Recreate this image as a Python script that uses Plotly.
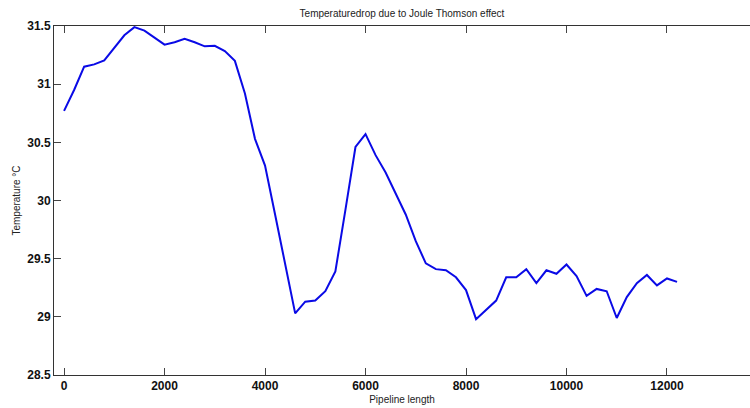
import plotly.graph_objects as go

pipeline_length = [0, 200, 400, 600, 800, 1000, 1200, 1400, 1600, 1800,
                   2000, 2200, 2400, 2600, 2800, 3000, 3200, 3400, 3600, 3800,
                   4000, 4200, 4400, 4600, 4800, 5000, 5200, 5400, 5600, 5800,
                   6000, 6200, 6400, 6600, 6800, 7000, 7200, 7400, 7600, 7800,
                   8000, 8200, 8400, 8600, 8800, 9000, 9200, 9400, 9600, 9800,
                   10000, 10200, 10400, 10600, 10800, 11000, 11200, 11400, 11600, 11800,
                   12000, 12200]
temperature = [30.77, 30.95, 31.15, 31.17, 31.205, 31.31, 31.42, 31.49, 31.46, 31.40,
               31.34, 31.36, 31.39, 31.36, 31.325, 31.33, 31.285, 31.20, 30.92, 30.53,
               30.30, 29.88, 29.47, 29.03, 29.13, 29.14, 29.22, 29.39, 29.92, 30.46,
               30.57, 30.39, 30.24, 30.06, 29.88, 29.65, 29.46, 29.41, 29.40, 29.34,
               29.23, 28.98, 29.06, 29.14, 29.34, 29.34, 29.41, 29.29, 29.40, 29.37,
               29.45, 29.35, 29.18, 29.24, 29.22, 28.99, 29.17, 29.29, 29.36, 29.27,
               29.33, 29.30]

x_ticks = [0, 2000, 4000, 6000, 8000, 10000, 12000]
x_tick_labels = ["0", "2000", "4000", "6000", "8000", "10000", "12000"]
y_ticks = [28.5, 29, 29.5, 30, 30.5, 31, 31.5]
y_tick_labels = ["28.5", "29", "29.5", "30", "30.5", "31", "31.5"]

fig = go.Figure()
fig.add_trace(go.Scatter(x=pipeline_length, y=temperature, mode="lines",
                         line=dict(color="#0a0ae6", width=2), showlegend=False))

tickfont = dict(family="Liberation Sans, Arial, sans-serif", size=12, color="#111111", weight="bold")
labelfont = dict(family="Liberation Sans, Arial, sans-serif", size=10, color="#222222")

fig.update_layout(
    width=750, height=408,
    margin=dict(l=54, r=0, t=26, b=33),
    paper_bgcolor="white", plot_bgcolor="white",
    title=dict(text="Temperaturedrop due to Joule Thomson effect", x=0.5, xref="paper",
               y=1 - 13 / 408, yanchor="middle", font=labelfont),
)
fig.update_xaxes(range=[-200, 13652], tickvals=x_ticks, ticktext=x_tick_labels,
                 ticks="inside", ticklen=7,
                 tickcolor="#444444", showline=True, linecolor="#333333", linewidth=1,
                 mirror="ticks", showgrid=False, zeroline=False, tickfont=tickfont,
                 title=dict(text="Pipeline length", font=labelfont, standoff=3))
fig.update_yaxes(range=[28.5, 31.5], tickvals=y_ticks, ticktext=y_tick_labels,
                 ticks="inside", ticklen=7, tickcolor="#444444", showline=True,
                 linecolor="#333333", linewidth=1, showgrid=False, zeroline=False,
                 tickfont=tickfont,
                 title=dict(text="Temperature °C", font=labelfont, standoff=4))

fig.write_html("out.html")
